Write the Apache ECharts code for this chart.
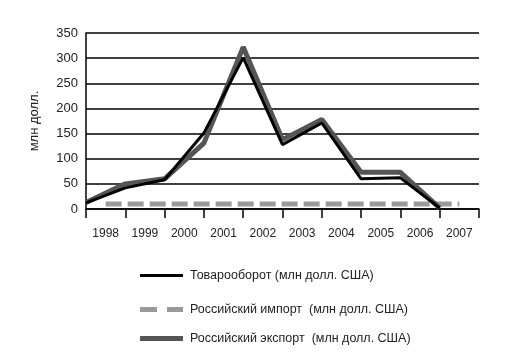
<!DOCTYPE html>
<html>
<head>
<meta charset="utf-8">
<script src="https://cdn.jsdelivr.net/npm/echarts@6/dist/echarts.min.js"></script>
<style>
  html, body { margin: 0; padding: 0; background: #fff; }
  #chart { width: 512px; height: 354px; }
</style>
</head>
<body>
<div id="chart"></div>
<script>
// годы (подписи по оси X)
var years = ['1998', '1999', '2000', '2001', '2002', '2003', '2004', '2005', '2006', '2007'];
// точки линий стоят на делениях оси (0..9)
var tickIndex = [0, 1, 2, 3, 4, 5, 6, 7, 8, 9];
var turnover = [12, 42, 58, 151, 301, 128, 171, 60, 62, 2];
var exportRu = [13, 50, 60, 131, 322, 138, 178, 73, 73, 2];
var importRu = [10, 10, 10, 10, 10, 10, 10, 10, 10, 10];
var yTicks = [0, 350, 50]; // min, max, interval

var names = [
    'Товарооборот (млн долл. США)',
    'Российский импорт  (млн долл. США)',
    'Российский экспорт  (млн долл. США)'
];

var font = '"Liberation Sans Narrow", "Liberation Sans", Arial, sans-serif';

function pairs(xs, ys) {
    return xs.map(function (x, i) { return [x, ys[i]]; });
}

// одна строка легенды = отдельный компонент (расстояния между строками разные)
function legendRow(name, top, icon, h) {
    return {
        data: [{ name: name, icon: icon }],
        left: 135,
        top: top,
        itemWidth: 43,
        itemHeight: h,
        selectedMode: false,
        textStyle: { fontFamily: font, fontSize: 12.5, color: '#222', padding: [0, 0, 0, 2] }
    };
}

var chart = echarts.init(document.getElementById('chart'));
chart.setOption({
    animation: false,
    grid: { left: 86, right: 33, top: 33, bottom: 145 },
    legend: [
        legendRow(names[0], 264, 'rect', 3),
        legendRow(names[1], 298, 'path://M0,0h17v5h-17z M27,0h16v5h-16z', 5),
        legendRow(names[2], 327, 'rect', 5)
    ],
    xAxis: [{
        type: 'category',
        data: years,
        boundaryGap: true,
        axisLine: { lineStyle: { color: '#000', width: 1.5 } },
        axisTick: { show: true, length: 9, lineStyle: { color: '#000', width: 1.5 } },
        axisLabel: { interval: 0, margin: 19, fontFamily: font, fontSize: 12, color: '#222' }
    }, {
        type: 'value',
        min: 0,
        max: 10,
        show: false
    }],
    yAxis: {
        type: 'value',
        min: yTicks[0],
        max: yTicks[1],
        interval: yTicks[2],
        name: 'млн долл.',
        nameLocation: 'middle',
        nameGap: 45,
        nameTextStyle: { fontFamily: font, fontSize: 13, color: '#222' },
        axisLine: { show: true, lineStyle: { color: '#000', width: 1.5 } },
        axisTick: { show: false },
        axisLabel: { margin: 8, fontFamily: font, fontSize: 13, color: '#222' },
        splitLine: { lineStyle: { color: '#000', width: 1.5 } }
    },
    series: [{
        name: names[1],
        type: 'line',
        xAxisIndex: 0,
        data: importRu,
        symbol: 'none',
        lineStyle: { color: '#9a9a9a', width: 5, type: [16, 6], cap: 'butt' },
        itemStyle: { color: '#9a9a9a' },
        z: 2
    }, {
        name: names[2],
        type: 'line',
        xAxisIndex: 1,
        data: pairs(tickIndex, exportRu),
        symbol: 'none',
        lineStyle: { color: '#555', width: 5 },
        itemStyle: { color: '#555' },
        z: 3
    }, {
        name: names[0],
        type: 'line',
        xAxisIndex: 1,
        data: pairs(tickIndex, turnover),
        symbol: 'none',
        lineStyle: { color: '#000', width: 3 },
        itemStyle: { color: '#000' },
        z: 4
    }]
});
</script>
</body>
</html>
